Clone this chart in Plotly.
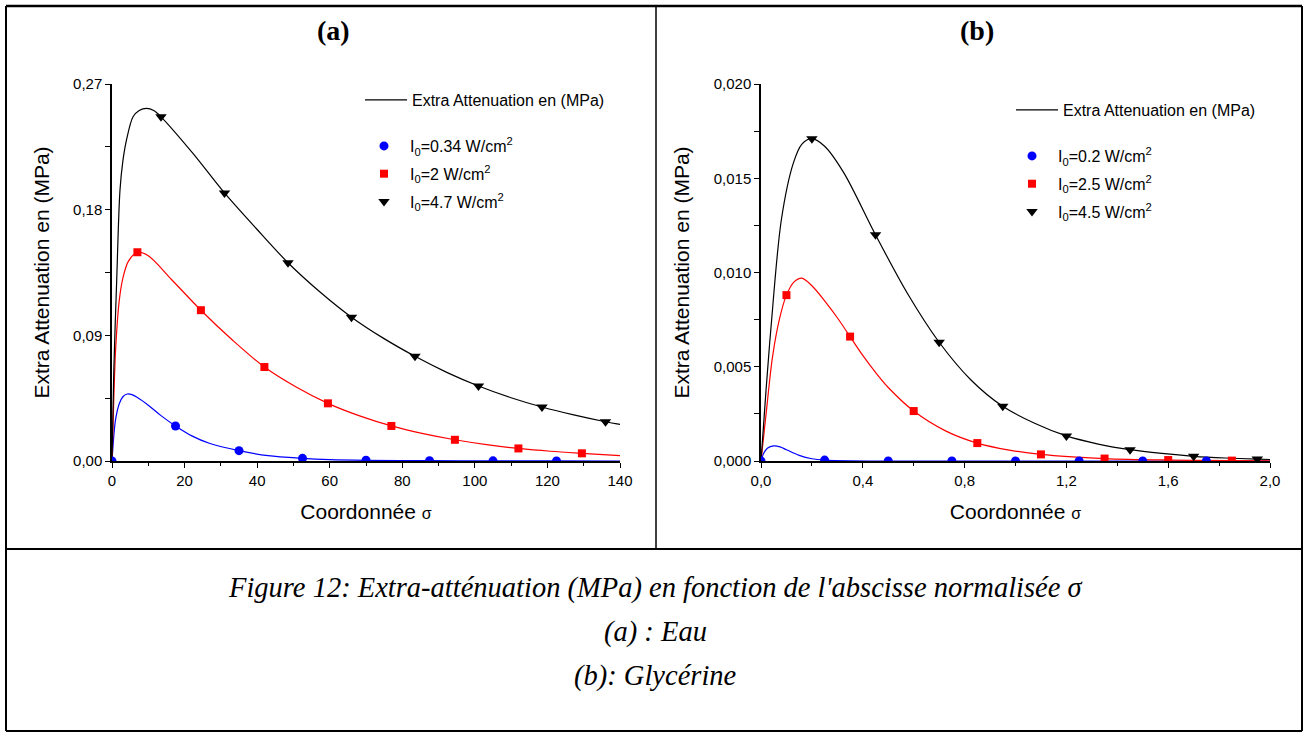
import plotly.graph_objects as go

# ---------------- Panel (a) : Eau ----------------
xa_blue = [0, 0.5, 1, 2, 3, 4.2, 5.5, 7, 10, 13.5, 17.5, 22, 27, 35, 43, 52.5, 60, 70, 87.5, 105, 122.5, 140]
ya_blue = [0, 0.018, 0.03, 0.041, 0.046, 0.048, 0.0475, 0.0455, 0.040, 0.0325, 0.0251, 0.018, 0.0125,
           0.0074, 0.0038, 0.0019, 0.001, 0.0005, 0.0002, 0.0001, 0.00005, 0]
xa_red = [0, 0.5, 1, 2, 3, 4.5, 7, 10, 16.4, 24.5, 33.25, 42, 50.75, 59.5, 68.25, 77, 85.75, 94.5,
          103.25, 112, 120.75, 129.5, 140]
ya_red = [0, 0.045, 0.08, 0.115, 0.131, 0.143, 0.1495, 0.147, 0.13, 0.108, 0.0865, 0.0673, 0.0530,
          0.0413, 0.0323, 0.0251, 0.0196, 0.0152, 0.0117, 0.0090, 0.0070, 0.0055, 0.0039]
xa_black = [0, 0.5, 1.3, 2.2, 3, 4, 5.8, 7.5, 9.5, 11.5, 13.5, 22.25, 31, 39.75, 48.5, 57.25, 66, 74.75,
            83.5, 92.25, 101, 109.75, 118.5, 127.25, 136, 140]
ya_black = [0, 0.065, 0.13, 0.194, 0.215, 0.230, 0.2465, 0.251, 0.2525, 0.251, 0.2465, 0.2205, 0.192,
            0.1665, 0.142, 0.1212, 0.103, 0.0880, 0.075, 0.0635, 0.0537, 0.0455, 0.0387, 0.033,
            0.0281, 0.0262]

xa_blue_m = [0, 17.5, 35, 52.5, 70, 87.5, 105, 122.5]
ya_blue_m = [0, 0.0251, 0.0074, 0.0019, 0.0005, 0.0002, 0.0001, 0.00005]
xa_red_m = [7, 24.5, 42, 59.5, 77, 94.5, 112, 129.5]
ya_red_m = [0.1495, 0.108, 0.0673, 0.0413, 0.0251, 0.0152, 0.0090, 0.0055]
xa_black_m = [13.5, 31, 48.5, 66, 83.5, 101, 118.5, 136]
ya_black_m = [0.2465, 0.192, 0.142, 0.103, 0.075, 0.0537, 0.0387, 0.0281]

labels_a = ["I<sub>0</sub>=0.34 W/cm<sup>2</sup>", "I<sub>0</sub>=2 W/cm<sup>2</sup>",
            "I<sub>0</sub>=4.7 W/cm<sup>2</sup>"]

# ---------------- Panel (b) : Glycérine ----------------
xb_blue = [0, 0.01, 0.025, 0.05, 0.075, 0.1, 0.15, 0.2, 0.25, 0.35, 0.5, 2.0]
yb_blue = [0, 0.0004, 0.00068, 0.0008, 0.00075, 0.0006, 0.0003, 0.00012, 0.00005, 0.00001, 0, 0]
xb_red = [0, 0.02, 0.045, 0.072, 0.1, 0.13, 0.16, 0.2, 0.25, 0.3, 0.35, 0.4, 0.45, 0.5, 0.6, 0.725,
          0.85, 0.975, 1.1, 1.35, 1.6, 1.85, 2.0]
yb_red = [0, 0.0025, 0.0055, 0.0075, 0.0088, 0.0095, 0.0097, 0.0093, 0.0085, 0.0076, 0.0066, 0.0056,
          0.0047, 0.0039, 0.00265, 0.0016, 0.00095, 0.00058, 0.00035, 0.00013, 0.00005, 0.00002, 0.00001]
xb_black = [0, 0.02, 0.04, 0.08, 0.127, 0.16, 0.2, 0.25, 0.325, 0.45, 0.575, 0.7, 0.825, 0.95, 1.075,
            1.2, 1.325, 1.45, 1.575, 1.7, 1.825, 1.95, 2.0]
yb_black = [0, 0.0038, 0.0072, 0.0128, 0.0158, 0.0168, 0.0171, 0.0167, 0.0153, 0.0120, 0.0089, 0.0063,
            0.0043, 0.0029, 0.0020, 0.00133, 0.0009, 0.0006, 0.0004, 0.00025, 0.00016, 0.0001, 0.00008]

xb_blue_m = [0, 0.25, 0.5, 0.75, 1.0, 1.25, 1.5, 1.75]
yb_blue_m = [0, 0.00005, 0, 0, 0, 0, 0, 0]
xb_red_m = [0.1, 0.35, 0.6, 0.85, 1.1, 1.35, 1.6, 1.85]
yb_red_m = [0.0088, 0.0066, 0.00265, 0.00095, 0.00035, 0.00013, 0.00005, 0.00002]
xb_black_m = [0.2, 0.45, 0.7, 0.95, 1.2, 1.45, 1.7, 1.95]
yb_black_m = [0.0171, 0.0120, 0.0063, 0.0029, 0.00133, 0.0006, 0.00025, 0.0001]

labels_b = ["I<sub>0</sub>=0.2 W/cm<sup>2</sup>", "I<sub>0</sub>=2.5 W/cm<sup>2</sup>",
            "I<sub>0</sub>=4.5 W/cm<sup>2</sup>"]

line_name = "Extra Attenuation en (MPa)"
colors = ["#0000FF", "#FF0000", "#000000"]
symbols = ["circle", "square", "triangle-down"]
sizes = [9, 8, 10]

fig = go.Figure()


def add_panel(xax, yax, leg_line, leg_pts, curves, marks, labels):
    for i, (cx, cy) in enumerate(curves):
        fig.add_trace(go.Scatter(
            x=cx, y=cy, mode="lines", xaxis=xax, yaxis=yax,
            line=dict(color=colors[i], width=1.2, shape="spline", smoothing=0.9),
            name=line_name, showlegend=(i == 2), legend=leg_line,
            hoverinfo="skip"))
    for i, (mx, my) in enumerate(marks):
        fig.add_trace(go.Scatter(
            x=mx, y=my, mode="markers", xaxis=xax, yaxis=yax,
            marker=dict(color=colors[i], symbol=symbols[i], size=sizes[i], line=dict(width=0)),
            name=labels[i], legend=leg_pts, legendgroup=leg_pts + str(i)))


add_panel("x", "y", "legend", "legend2",
          [(xa_blue, ya_blue), (xa_red, ya_red), (xa_black, ya_black)],
          [(xa_blue_m, ya_blue_m), (xa_red_m, ya_red_m), (xa_black_m, ya_black_m)], labels_a)
add_panel("x2", "y2", "legend3", "legend4",
          [(xb_blue, yb_blue), (xb_red, yb_red), (xb_black, yb_black)],
          [(xb_blue_m, yb_blue_m), (xb_red_m, yb_red_m), (xb_black_m, yb_black_m)], labels_b)

W, H = 1309, 738


def px(x):
    return x / W


def py(y):
    return (H - y) / H


sans = "Liberation Sans, Arial"
tick_font = dict(family=sans, size=15, color="black")
title_font = dict(family=sans, size=21, color="black")
xtitle = "Coordonnée <span style='font-size:16px'>σ</span>"
ytitle = "Extra Attenuation en (MPa)"

common_axis = dict(showline=True, linecolor="black", linewidth=1.5, ticks="outside", ticklen=5,
                   tickwidth=1.3, tickcolor="black", showgrid=False, zeroline=False,
                   tickfont=tick_font, mirror=False, layer="below traces", automargin=False)

ydom = [py(461), py(84)]


def leg(x, ytop, gap=0):
    return dict(x=px(x), y=py(ytop), xanchor="left", yanchor="top", bgcolor="rgba(0,0,0,0)",
                font=dict(family=sans, size=16, color="black"), tracegroupgap=gap, itemwidth=42)


fig.update_layout(
    width=W, height=H, margin=dict(l=0, r=0, t=0, b=0, pad=0, autoexpand=False),
    paper_bgcolor="white", plot_bgcolor="white", separators=", ",
    xaxis=dict(common_axis, domain=[px(112), px(620)], range=[0, 140], tick0=0, dtick=20,
               tickformat="d", minor=dict(ticks="outside", ticklen=3, dtick=10, tickcolor="black"),
               title=dict(text=xtitle, font=title_font, standoff=17), anchor="y"),
    yaxis=dict(common_axis, domain=ydom, range=[0, 0.27], tick0=0, dtick=0.09, tickformat=".2f",
               minor=dict(ticks="outside", ticklen=5, dtick=0.045, tickcolor="black"),
               title=dict(text=ytitle, font=title_font, standoff=18), anchor="x"),
    xaxis2=dict(common_axis, domain=[px(761), px(1270)], range=[0, 2.0], tick0=0, dtick=0.4,
                tickformat=".1f", minor=dict(ticks="outside", ticklen=3, dtick=0.2, tickcolor="black"),
                title=dict(text=xtitle, font=title_font, standoff=17), anchor="y2"),
    yaxis2=dict(common_axis, domain=ydom, range=[0, 0.020], tick0=0, dtick=0.005, tickformat=".3f",
                minor=dict(ticks="outside", ticklen=5, dtick=0.0025, tickcolor="black"),
                title=dict(text=ytitle, font=title_font, standoff=18), anchor="x2"),
    legend=leg(360, 83),
    legend2=leg(358, 129, gap=4),
    legend3=leg(1011, 93),
    legend4=leg(1006, 139, gap=4),
)

serif = "Liberation Serif, Times New Roman, serif"
annots = [
    dict(text="<b>(a)</b>", x=px(333), y=py(30), font=dict(family=serif, size=28, color="black")),
    dict(text="<b>(b)</b>", x=px(977), y=py(30), font=dict(family=serif, size=28, color="black")),
    dict(text="<i>Figure 12: Extra-atténuation (MPa) en fonction de l'abscisse normalisée σ</i>",
         x=px(655), y=py(588), font=dict(family=serif, size=28.5, color="black")),
    dict(text="<i>(a) : Eau</i>", x=px(655), y=py(632), font=dict(family=serif, size=28.5, color="black")),
    dict(text="<i>(b): Glycérine</i>", x=px(655), y=py(676),
         font=dict(family=serif, size=28.5, color="black")),
]
for a in annots:
    fig.add_annotation(xref="paper", yref="paper", showarrow=False, xanchor="center", yanchor="middle", **a)

# frame lines of the figure table
L, T, R, B = 6, 6, 1302, 731
frame = [
    (L, T, R, T, 2.5), (L, T, L, B, 2), (R, T, R, B, 2), (L, B, R, B, 2),
    (656, T, 656, 549, 1.5), (L, 549, R, 549, 2),
]
for x0, y0, x1, y1, w in frame:
    fig.add_shape(type="line", xref="paper", yref="paper", x0=px(x0), y0=py(y0), x1=px(x1),
                  y1=py(y1), line=dict(color="black", width=w))

# the page's default 8px body margin would push the 1309x738 figure out of the window
fig.write_html("out.html",
               post_script="document.body.style.margin='0';document.body.style.overflow='hidden';")
